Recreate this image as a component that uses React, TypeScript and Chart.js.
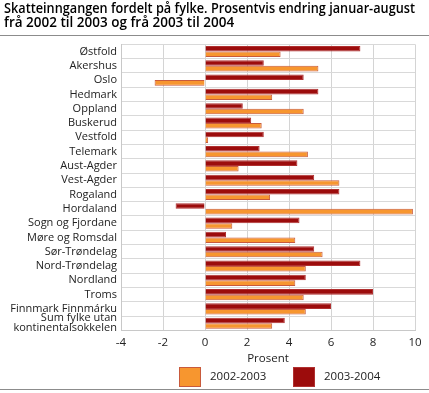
import React, { useEffect, useRef } from "react";
import { Chart, registerables } from "chart.js";

Chart.register(...registerables);

const categories: (string | string[])[] = [
  "Østfold",
  "Akershus",
  "Oslo",
  "Hedmark",
  "Oppland",
  "Buskerud",
  "Vestfold",
  "Telemark",
  "Aust-Agder",
  "Vest-Agder",
  "Rogaland",
  "Hordaland",
  "Sogn og Fjordane",
  "Møre og Romsdal",
  "Sør-Trøndelag",
  "Nord-Trøndelag",
  "Nordland",
  "Troms",
  "Finnmark Finnmárku",
  ["Sum fylke utan", "kontinentalsokkelen"],
];

const series2002to2003 = [3.6, 5.4, -2.4, 3.2, 4.7, 2.7, 0.15, 4.9, 1.6, 6.4, 3.1, 9.9, 1.3, 4.3, 5.6, 4.8, 4.3, 4.7, 4.8, 3.2];
const series2003to2004 = [7.4, 2.8, 4.7, 5.4, 1.8, 2.2, 2.8, 2.6, 4.4, 5.2, 6.4, -1.4, 4.5, 1.0, 5.2, 7.4, 4.8, 8.0, 6.0, 3.8];

const legendLabels = ["2002-2003", "2003-2004"];
const titleLines = [
  "Skatteinngangen fordelt på fylke. Prosentvis endring januar-august",
  "frå 2002 til 2003 og frå 2003 til 2004",
];
const xTitle = "Prosent";
const xMin = -4;
const xMax = 10;
const xStep = 2;

const ORANGE = "#F7962F";
const ORANGE_BORDER = "#C85A3C";
const DARK = "#9C0C0C";
const DARK_BORDER = "#B03030";
const FONT = "'Open Sans', sans-serif";

const decorPlugin = {
  id: "decor",
  afterDraw(chart: any) {
    const ctx = chart.ctx;
    ctx.save();
    ctx.strokeStyle = "#8c8c8c";
    ctx.lineWidth = 1;
    ctx.beginPath();
    ctx.moveTo(0, 35.5);
    ctx.lineTo(chart.width, 35.5);
    ctx.moveTo(0, 389.5);
    ctx.lineTo(chart.width, 389.5);
    ctx.stroke();

    // legend
    const items = [
      { label: legendLabels[0], fill: ORANGE, stroke: ORANGE_BORDER, x: 179 },
      { label: legendLabels[1], fill: DARK, stroke: DARK_BORDER, x: 293 },
    ];
    ctx.font = `11.5px ${FONT}`;
    ctx.textBaseline = "middle";
    ctx.textAlign = "left";
    for (const it of items) {
      ctx.fillStyle = it.fill;
      ctx.fillRect(it.x, 367, 22, 20);
      ctx.strokeStyle = it.stroke;
      ctx.strokeRect(it.x + 0.5, 367.5, 21, 19);
      ctx.fillStyle = "#222";
      ctx.fillText(it.label, it.x + 31, 377);
    }
    ctx.restore();
  },
};

export default function App() {
  const ref = useRef<HTMLCanvasElement>(null);
  useEffect(() => {
    document.body.style.margin = "0";
    const chart = new Chart(ref.current!, {
      type: "bar",
      data: {
        labels: categories,
        datasets: [
          {
            label: legendLabels[1],
            data: series2003to2004,
            backgroundColor: DARK,
            borderColor: DARK_BORDER,
            borderWidth: 1,
            categoryPercentage: 0.78,
            barPercentage: 1,
          },
          {
            label: legendLabels[0],
            data: series2002to2003,
            backgroundColor: ORANGE,
            borderColor: ORANGE_BORDER,
            borderWidth: 1,
            categoryPercentage: 0.78,
            barPercentage: 1,
          },
        ],
      },
      options: {
        indexAxis: "y",
        animation: false,
        responsive: false,
        devicePixelRatio: 1,
        layout: { padding: { left: 4, right: 14, top: 0, bottom: 27 } },
        plugins: {
          legend: { display: false },
          tooltip: { enabled: false },
          title: {
            display: true,
            text: titleLines,
            align: "start",
            color: "#000",
            font: { family: FONT, size: 13.5, weight: "600", lineHeight: 1.05 },
            padding: { top: 2, bottom: 14 },
          },
        },
        scales: {
          x: {
            type: "linear",
            min: xMin,
            max: xMax,
            ticks: { stepSize: xStep, color: "#222", font: { family: FONT, size: 11.5 }, padding: 5 },
            grid: { color: "#d4d4d4", drawTicks: false },
            border: { color: "#c8c8c8" },
            title: {
              display: true,
              text: xTitle,
              color: "#222",
              font: { family: FONT, size: 11.5 },
              padding: { top: -2, bottom: 0 },
            },
          },
          y: {
            type: "category",
            ticks: { color: "#222", font: { family: FONT, size: 11, lineHeight: 0.9 }, padding: 4, autoSkip: false },
            grid: { color: "#d9d9d9", drawTicks: false, offset: true },
            border: { color: "#c8c8c8" },
            afterFit: (scale: any) => {
              scale.width = 117;
            },
          },
        },
      },
      plugins: [decorPlugin],
    });
    return () => chart.destroy();
  }, []);
  return (
    <div style={{ position: "absolute", left: 0, top: 0, width: 429, height: 393, background: "#fff" }}>
      <canvas ref={ref} width={429} height={393} style={{ width: 429, height: 393 }} />
    </div>
  );
}
